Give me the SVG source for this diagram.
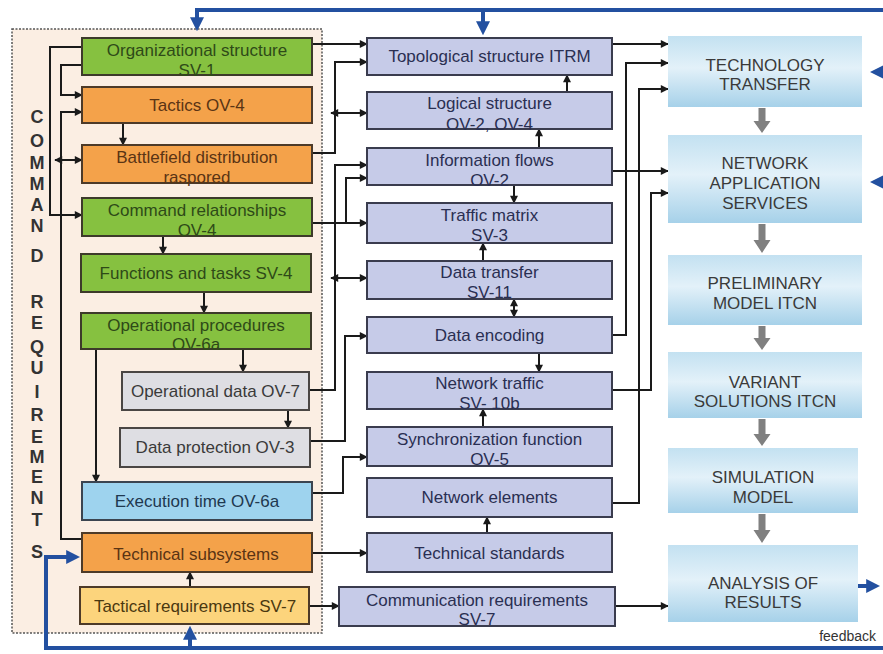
<svg xmlns="http://www.w3.org/2000/svg" width="883" height="654" viewBox="0 0 883 654">
<defs>
<style>
text{font-family:"Liberation Sans",Arial,sans-serif;}
.lbl{font-size:17px;text-anchor:middle;}
.rl{font-size:17px;text-anchor:middle;fill:#3a3a3a;}
.green{fill:#86C140;stroke:#3d3a2a;stroke-width:2;}
.orange{fill:#F4A24A;stroke:#4d3a28;stroke-width:2;}
.grey{fill:#DEDEE3;stroke:#4a4644;stroke-width:2;}
.blue{fill:#9ED3EE;stroke:#3b4450;stroke-width:2;}
.yellow{fill:#FCD47C;stroke:#4d3a28;stroke-width:2;}
.mid{fill:#C6CBE8;stroke:#3a3c4e;stroke-width:2;}
.right{fill:url(#rg);}
.tg{fill:#2E4A18;}
.to{fill:#5A3414;}
.tgr{fill:#3a3a3a;}
.tb{fill:#1F3850;}
.ty{fill:#4a3810;}
.tm{fill:#2A2F52;}
.c{fill:none;stroke:#1a1a1a;stroke-width:2;}
.a{marker-end:url(#ah);}
.d{marker-start:url(#ah);marker-end:url(#ah);}
.fb{fill:none;stroke:#2350A0;stroke-width:4;}
.fa{marker-end:url(#bh);}
.gray{fill:#808080;}
</style>
<linearGradient id="rg" x1="0" y1="0" x2="0" y2="1">
<stop offset="0" stop-color="#C3E1F1"/>
<stop offset="0.45" stop-color="#E3F1F9"/>
<stop offset="1" stop-color="#A6D1E9"/>
</linearGradient>
<marker id="ah" viewBox="0 0 10 10" refX="9" refY="5" markerWidth="9" markerHeight="8" markerUnits="userSpaceOnUse" orient="auto-start-reverse">
<path d="M0,0 L10,5 L0,10 z" fill="#1a1a1a"/>
</marker>
<marker id="bh" viewBox="0 0 10 10" refX="7" refY="5" markerWidth="14" markerHeight="14" markerUnits="userSpaceOnUse" orient="auto">
<path d="M0,0 L10,5 L0,10 z" fill="#2350A0"/>
</marker>
</defs>
<rect x="0" y="0" width="883" height="654" fill="#ffffff"/>

<g id="command-requirements">
<rect x="12" y="29" width="310" height="604" fill="#FBEEE3" stroke="#555" stroke-width="1.5" stroke-dasharray="2,1.5"/>
<text font-size="18" font-weight="bold" fill="#333" text-anchor="middle">
<tspan x="37" y="123">C</tspan><tspan x="37" y="147">O</tspan><tspan x="37" y="169">M</tspan><tspan x="37" y="190">M</tspan><tspan x="37" y="211">A</tspan><tspan x="37" y="232">N</tspan><tspan x="37" y="262">D</tspan><tspan x="37" y="308">R</tspan><tspan x="37" y="329">E</tspan><tspan x="37" y="353">Q</tspan><tspan x="37" y="374">U</tspan><tspan x="37" y="398">I</tspan><tspan x="37" y="421">R</tspan><tspan x="37" y="443">E</tspan><tspan x="37" y="463">M</tspan><tspan x="37" y="483">E</tspan><tspan x="37" y="504">N</tspan><tspan x="37" y="526">T</tspan><tspan x="37" y="558">S</tspan>
</text>
</g>

<g id="connectors">
<path class="c a" d="M82,47 H50 V215 H82"/>
<path class="c a" d="M82,65 H61 V95 H82"/>
<path class="c a" d="M82,539 H61 V112 H82"/>
<path class="c d" d="M55,160 H82"/>
<path class="c a" d="M123,123 V145"/>
<path class="c a" d="M163,236 V254"/>
<path class="c a" d="M204,292 V313"/>
<path class="c a" d="M243,349 V372"/>
<path class="c a" d="M288,410 V428"/>
<path class="c a" d="M96,349 V482"/>
<path class="c a" d="M190,587 V572"/>
<path class="c a" d="M312,44 H367"/>
<path class="c a" d="M312,153 H335 V62 H367"/>
<path class="c d" d="M331,113 H367"/>
<path class="c a" d="M309,390 H335 V165 H367"/>
<path class="c d" d="M331,278 H367"/>
<path class="c a" d="M312,223 H367"/>
<path class="c a" d="M346,223 V178 H367"/>
<path class="c a" d="M310,441 H345 V336 H367"/>
<path class="c a" d="M312,493 H343 V457 H367"/>
<path class="c a" d="M312,553 H367"/>
<path class="c a" d="M309,606 H339"/>
<path class="c a" d="M567,92 V75"/>
<path class="c a" d="M539,148 V129"/>
<path class="c a" d="M514,185 V203"/>
<path class="c a" d="M483,261 V243"/>
<path class="c d" d="M514,299 V317"/>
<path class="c a" d="M539,353 V372"/>
<path class="c a" d="M483,427 V409"/>
<path class="c a" d="M487,533 V517"/>
<path class="c a" d="M612,44 H668"/>
<path class="c a" d="M612,335 H626 V63 H668"/>
<path class="c a" d="M612,503 H639 V89 H668"/>
<path class="c a" d="M612,171 H668"/>
<path class="c a" d="M612,390 H651 V193 H668"/>
<path class="c a" d="M615,606 H668"/>
<polygon class="gray" points="758.5,108 765.5,108 765.5,121 770.5,121 762,133 753.5,121 758.5,121"/>
<polygon class="gray" points="758.5,224 765.5,224 765.5,240 770.5,240 762,253 753.5,240 758.5,240"/>
<polygon class="gray" points="758.5,326 765.5,326 765.5,338 770.5,338 762,350 753.5,338 758.5,338"/>
<polygon class="gray" points="758.5,419 765.5,419 765.5,434 770.5,434 762,446 753.5,434 758.5,434"/>
<polygon class="gray" points="758.5,514 765.5,514 765.5,530 770.5,530 762,543 753.5,530 758.5,530"/>
<path class="fb fa" d="M883,10 H197 V27"/>
<path class="fb fa" d="M483,10 V31"/>
<path class="fb fa" d="M883,72 H874"/>
<path class="fb fa" d="M883,182 H874"/>
<path class="fb fa" d="M858,586 H876"/>
<path class="fb fa" d="M883,648 H46 V557 H76"/>
<path class="fb fa" d="M190,648 V630"/>
</g>

<g id="n-org"><rect class="green" x="82" y="38" width="230" height="37"/><text class="lbl tg" x="197" y="56">Organizational structure</text><text class="lbl tg" x="197" y="76">SV-1</text></g>
<g id="n-tactics"><rect class="orange" x="82" y="87" width="230" height="36"/><text class="lbl to" x="197" y="111">Tactics OV-4</text></g>
<g id="n-battlefield"><rect class="orange" x="82" y="145" width="230" height="38"/><text class="lbl to" x="197" y="163">Battlefield distribution</text><text class="lbl to" x="197" y="183">raspored</text></g>
<g id="n-cmdrel"><rect class="green" x="82" y="198" width="230" height="38"/><text class="lbl tg" x="197" y="216">Command relationships</text><text class="lbl tg" x="197" y="236">OV-4</text></g>
<g id="n-functions"><rect class="green" x="81" y="254" width="230" height="38"/><text class="lbl tg" x="196" y="279">Functions and tasks SV-4</text></g>
<g id="n-opproc"><rect class="green" x="81" y="313" width="230" height="36"/><text class="lbl tg" x="196" y="331">Operational procedures</text><text class="lbl tg" x="196" y="350">OV-6a</text></g>
<g id="n-opdata"><rect class="grey" x="122" y="372" width="187" height="38"/><text class="lbl tgr" x="215.5" y="397">Operational data OV-7</text></g>
<g id="n-dataprot"><rect class="grey" x="120" y="428" width="190" height="39"/><text class="lbl tgr" x="215" y="453">Data protection OV-3</text></g>
<g id="n-exectime"><rect class="blue" x="82" y="482" width="230" height="38"/><text class="lbl tb" x="197" y="507">Execution time OV-6a</text></g>
<g id="n-techsub"><rect class="orange" x="82" y="533" width="230" height="39"/><text class="lbl to" x="196" y="560">Technical subsystems</text></g>
<g id="n-tacreq"><rect class="yellow" x="80" y="587" width="229" height="37"/><text class="lbl ty" x="195" y="612">Tactical requirements SV-7</text></g>

<g id="m-topo"><rect class="mid" x="367" y="38" width="245" height="37"/><text class="lbl tm" x="489.5" y="62">Topological structure ITRM</text></g>
<g id="m-logic"><rect class="mid" x="367" y="92" width="245" height="37"/><text class="lbl tm" x="489.5" y="109">Logical structure</text><text class="lbl tm" x="489.5" y="130">OV-2, OV-4</text></g>
<g id="m-info"><rect class="mid" x="367" y="148" width="245" height="37"/><text class="lbl tm" x="489.5" y="166">Information flows</text><text class="lbl tm" x="489.5" y="186">OV-2</text></g>
<g id="m-traffic"><rect class="mid" x="367" y="203" width="245" height="40"/><text class="lbl tm" x="489.5" y="221">Traffic matrix</text><text class="lbl tm" x="489.5" y="241">SV-3</text></g>
<g id="m-dtransfer"><rect class="mid" x="367" y="261" width="245" height="38"/><text class="lbl tm" x="489.5" y="278">Data transfer</text><text class="lbl tm" x="489.5" y="298">SV-11</text></g>
<g id="m-dencoding"><rect class="mid" x="367" y="317" width="245" height="36"/><text class="lbl tm" x="489.5" y="341">Data encoding</text></g>
<g id="m-ntraffic"><rect class="mid" x="367" y="372" width="245" height="37"/><text class="lbl tm" x="489.5" y="389">Network traffic</text><text class="lbl tm" x="489.5" y="409">SV- 10b</text></g>
<g id="m-sync"><rect class="mid" x="367" y="427" width="245" height="39"/><text class="lbl tm" x="489.5" y="445">Synchronization function</text><text class="lbl tm" x="489.5" y="465">OV-5</text></g>
<g id="m-nelements"><rect class="mid" x="367" y="478" width="245" height="39"/><text class="lbl tm" x="489.5" y="503">Network elements</text></g>
<g id="m-techstd"><rect class="mid" x="367" y="533" width="245" height="39"/><text class="lbl tm" x="489.5" y="559">Technical  standards</text></g>
<g id="m-commreq"><rect class="mid" x="339" y="587" width="276" height="39"/><text class="lbl tm" x="477" y="606">Communication requirements</text><text class="lbl tm" x="477" y="625">SV-7</text></g>

<g id="r-tt"><rect class="right" x="668" y="36" width="194" height="71"/><text class="rl" x="765" y="71">TECHNOLOGY</text><text class="rl" x="765" y="90">TRANSFER</text></g>
<g id="r-nas"><rect class="right" x="668" y="135" width="194" height="88"/><text class="rl" x="765" y="169">NETWORK</text><text class="rl" x="765" y="189">APPLICATION</text><text class="rl" x="765" y="209">SERVICES</text></g>
<g id="r-pm"><rect class="right" x="668" y="255" width="194" height="70"/><text class="rl" x="765" y="289">PRELIMINARY</text><text class="rl" x="765" y="309">MODEL ITCN</text></g>
<g id="r-vs"><rect class="right" x="668" y="352" width="194" height="66"/><text class="rl" x="765" y="388">VARIANT</text><text class="rl" x="765" y="407">SOLUTIONS ITCN</text></g>
<g id="r-sm"><rect class="right" x="668" y="448" width="190" height="65"/><text class="rl" x="763" y="483">SIMULATION</text><text class="rl" x="763" y="503">MODEL</text></g>
<g id="r-ar"><rect class="right" x="668" y="545" width="190" height="77"/><text class="rl" x="763" y="589">ANALYSIS OF</text><text class="rl" x="763" y="608">RESULTS</text></g>

<text x="876" y="641" font-size="14" fill="#333" text-anchor="end">feedback</text>
</svg>
